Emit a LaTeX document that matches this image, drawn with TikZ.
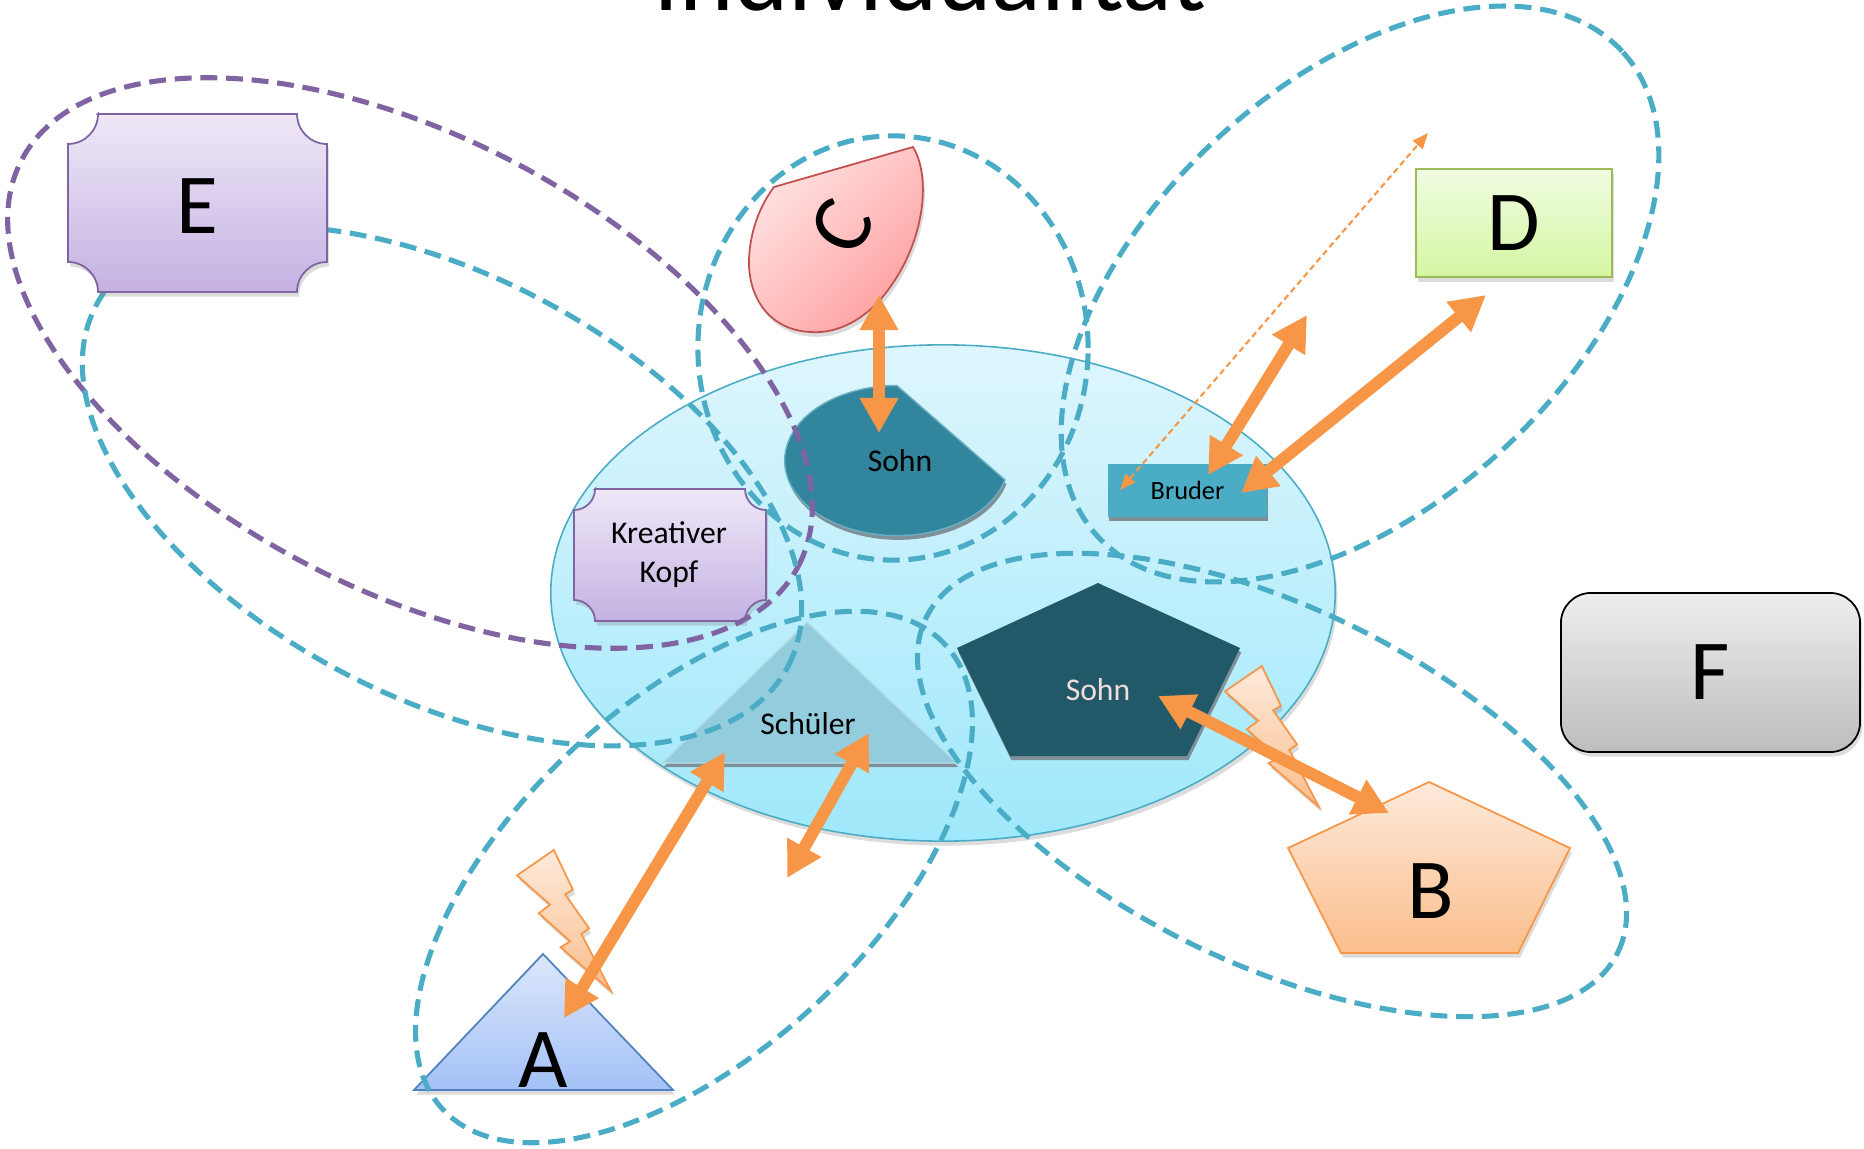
\documentclass[tikz,border=0pt]{standalone}
\usepackage{fontspec}
\setmainfont{Carlito}
\usetikzlibrary{arrows.meta,shapes.geometric,shadows}
\definecolor{cRing}{HTML}{4BACC6}
\definecolor{cPurple}{HTML}{8064A2}
\definecolor{cArrow}{HTML}{F79646}
\definecolor{cTeal}{HTML}{31859C}
\definecolor{cTealEdge}{HTML}{6AAFC2}
\definecolor{cNavy}{HTML}{215968}
\definecolor{cTri}{HTML}{93CDDD}
\definecolor{cTriEdge}{HTML}{B7DEE8}
\definecolor{cSlab}{HTML}{7F9099}
\definecolor{cPale}{HTML}{F2DCDB}
\definecolor{cSelfTop}{HTML}{DEF6FD}
\definecolor{cSelfBot}{HTML}{9FE8FB}
\definecolor{cLilacTop}{HTML}{EFE8F8}
\definecolor{cLilacBot}{HTML}{C4B1E2}
\definecolor{cRedTop}{HTML}{FFE2E2}
\definecolor{cRedBot}{HTML}{FF9E9E}
\definecolor{cRedEdge}{HTML}{C0504D}
\definecolor{cBlueTop}{HTML}{DCE7FB}
\definecolor{cBlueBot}{HTML}{A3C1F7}
\definecolor{cBlueEdge}{HTML}{4F81BD}
\definecolor{cPeachTop}{HTML}{FDEADB}
\definecolor{cPeachBot}{HTML}{FBBE8C}
\definecolor{cGreenTop}{HTML}{F0FCE1}
\definecolor{cGreenBot}{HTML}{D5F6A2}
\definecolor{cGreenEdge}{HTML}{9BBB59}
\definecolor{cGreyTop}{HTML}{EEEEEE}
\definecolor{cGreyBot}{HTML}{BDBDBD}
\tikzset{
  lift/.style    = {drop shadow={opacity=.28, shadow xshift=.6pt, shadow yshift=-1.3pt}},
  slab/.style    = {drop shadow={opacity=1, fill=cSlab, shadow xshift=.4pt, shadow yshift=-1.2pt}},
  ring/.style    = {ellipse, draw=cRing, line width=1.45pt, dash pattern=on 4.8pt off 2.5pt,
                    inner sep=0pt},
  ringpurple/.style = {ring, draw=cPurple},
  self/.style    = {ellipse, draw=cRing, line width=.45pt, top color=cSelfTop,
                    bottom color=cSelfBot, inner sep=0pt, lift},
  plaque/.style  = {draw=cPurple, line width=.5pt, top color=cLilacTop, bottom color=cLilacBot, lift},
  letter/.style  = {font=\fontsize{24.3}{29}\selectfont, inner sep=0pt},
  word/.style    = {font=\fontsize{9}{11.1}\selectfont, align=center, inner sep=0pt},
  boltfill/.style = {draw=cArrow, line width=.5pt, top color=cPeachTop, bottom color=cPeachBot, lift},
  bolt/.pic      = {
    \path[boltfill] (36.8,0) -- (55.9,-39.7) -- (48.1,-44.4) -- (72.1,-78.4) -- (64.3,-84)
      -- (94,-141) -- (43.6,-97.3) -- (53.2,-91.4) -- (21.8,-63.3) -- (33.1,-54.7)
      -- (0,-25.4) -- cycle;
  },
  bond/.style    = {{Triangle[length=10pt,width=10.4pt]}-{Triangle[length=10pt,width=10.4pt]},
                    line width=3.4pt, draw=cArrow},
  hint/.style    = {{Triangle[length=4.5pt,width=3.6pt]}-{Triangle[length=4.5pt,width=3.6pt]},
                    line width=.6pt, draw=cArrow, dash pattern=on 1.7pt off 1.1pt},
}
\begin{document}
\begin{tikzpicture}[x=0.01cm, y=0.01cm]
  \useasboundingbox (0,0) rectangle (1864,1148);
  \node[font=\fontsize{29.5}{34}\selectfont, anchor=base, inner sep=0pt] (title)
    at (930,1137) {Individualität};

  % the person and its roles
  \node[self, minimum width=7.84cm, minimum height=4.96cm] (self) at (943,555) {};
  \path[fill=cTeal, draw=cTealEdge, line width=.4pt, slab]
    (1005,668) arc[start angle=-15, end angle=-270, x radius=1.12cm, y radius=.75cm] -- cycle;
  \node[word] (sohnTop) at (900,687) {Sohn};
  \node[fill=cRing, minimum width=1.59cm, minimum height=.53cm, inner sep=0pt, slab,
        font=\fontsize{7.5}{9}\selectfont] (bruder) at (1187.5,657.5) {Bruder};
  \path[fill=cTri, draw=cTriEdge, line width=.4pt, slab]
    (807,526) -- (957,385) -- (662,385) -- cycle;
  \node[word, anchor=base] (schueler) at (808,413) {Schüler};
  \path[fill=cNavy, slab]
    (1098,565) -- (1240,500) -- (1187,392) -- (1010,392) -- (957,500) -- cycle;
  \node[word, text=cPale] (sohnBot) at (1098,458) {Sohn};
  \path[plaque] (595,659) -- (745,659) arc[start angle=180, end angle=270, radius=.21cm]
    -- (766,548) arc[start angle=90, end angle=180, radius=.21cm]
    -- (595,527) arc[start angle=0, end angle=90, radius=.21cm]
    -- (574,638) arc[start angle=-90, end angle=0, radius=.21cm] -- cycle;
  \node[word] (kopf) at (669,593) {Kreativer\\Kopf};

  % the others
  \path[draw=cRedEdge, line width=.5pt, top color=cRedTop, bottom color=cRedBot,
        shading angle=45, lift]
    (774,961) -- (913,1001) .. controls (932,970) and (925,900) .. (880,848)
    .. controls (860,826) and (835,814) .. (810,816)
    .. controls (770,818) and (748,850) .. (749,888)
    .. controls (750,920) and (762,945) .. (774,961) -- cycle;
  \node[letter, rotate=62] (C) at (842,921) {C};
  \path[draw=cBlueEdge, line width=.5pt, top color=cBlueTop, bottom color=cBlueBot, lift]
    (543,194) -- (673,58) -- (414,58) -- cycle;
  \node[letter, anchor=base] (A) at (543,61) {A};
  \path[draw=cArrow, line width=.5pt, top color=cPeachTop, bottom color=cPeachBot, lift]
    (1429,366) -- (1570,300) -- (1518,195) -- (1341,195) -- (1288,300) -- cycle;
  \node[letter, anchor=base] (B) at (1431,230) {B};
  \node[letter, draw=cGreenEdge, line width=.6pt, top color=cGreenTop, bottom color=cGreenBot,
        minimum width=1.96cm, minimum height=1.08cm, lift] (D) at (1514,925) {D};
  \node[letter, draw=black, line width=.5pt, rounded corners=.3cm, top color=cGreyTop,
        bottom color=cGreyBot, minimum width=2.99cm, minimum height=1.59cm, lift]
    (F) at (1710.5,475.5) {F};

  % groups
  \node[ringpurple, minimum width=8.76cm, minimum height=4.52cm, rotate=-27.6] (ringE) at (410,785) {};
  \node[ring, minimum width=7.8cm, minimum height=4.22cm, rotate=-27.5] (ringKopf) at (442,662) {};
  \node[ring, minimum width=3.9cm, minimum height=4.24cm] (ringC) at (893,800) {};
  \node[ring, minimum width=7.14cm, minimum height=4.22cm, rotate=42.8] (ringD) at (1360,854) {};
  \node[ring, minimum width=6.84cm, minimum height=3.52cm, rotate=42.7] (ringA) at (694,271) {};
  \node[ring, minimum width=7.68cm, minimum height=3.56cm, rotate=-25.8] (ringB) at (1272,363) {};

  \path[plaque] (98,1034) -- (297,1034) arc[start angle=180, end angle=270, radius=.3cm]
    -- (327,886) arc[start angle=90, end angle=180, radius=.3cm]
    -- (98,856) arc[start angle=0, end angle=90, radius=.3cm]
    -- (68,1004) arc[start angle=-90, end angle=0, radius=.3cm] -- cycle;
  \node[letter] (E) at (197.5,942) {E};

  % conflicts
  \pic at (517,298) {bolt};
  \pic at (1225,482) {bolt};

  % links
  \coordinate (sohnTip) at (879,715);
  \coordinate (cTip) at (879,853);
  \coordinate (bruTipA) at (1208,673);
  \coordinate (upTip) at (1307,833);
  \coordinate (bruTipB) at (1241,655);
  \coordinate (dTip) at (1486,853);
  \coordinate (bruTipC) at (1120,658);
  \coordinate (farTip) at (1428,1015);
  \coordinate (sohnBotTip) at (1158,452);
  \coordinate (bTip) at (1389,335);
  \coordinate (schTipA) at (725,396);
  \coordinate (aTip) at (564,130);
  \coordinate (schTipB) at (869,415);
  \coordinate (outTip) at (787,270);
  \draw[bond] (sohnTip) -- (cTip);
  \draw[bond] (bruTipA) -- (upTip);
  \draw[bond] (bruTipB) -- (dTip);
  \draw[hint] (bruTipC) -- (farTip);
  \draw[bond] (sohnBotTip) -- (bTip);
  \draw[bond] (schTipA) -- (aTip);
  \draw[bond] (schTipB) -- (outTip);
\end{tikzpicture}
\end{document}
